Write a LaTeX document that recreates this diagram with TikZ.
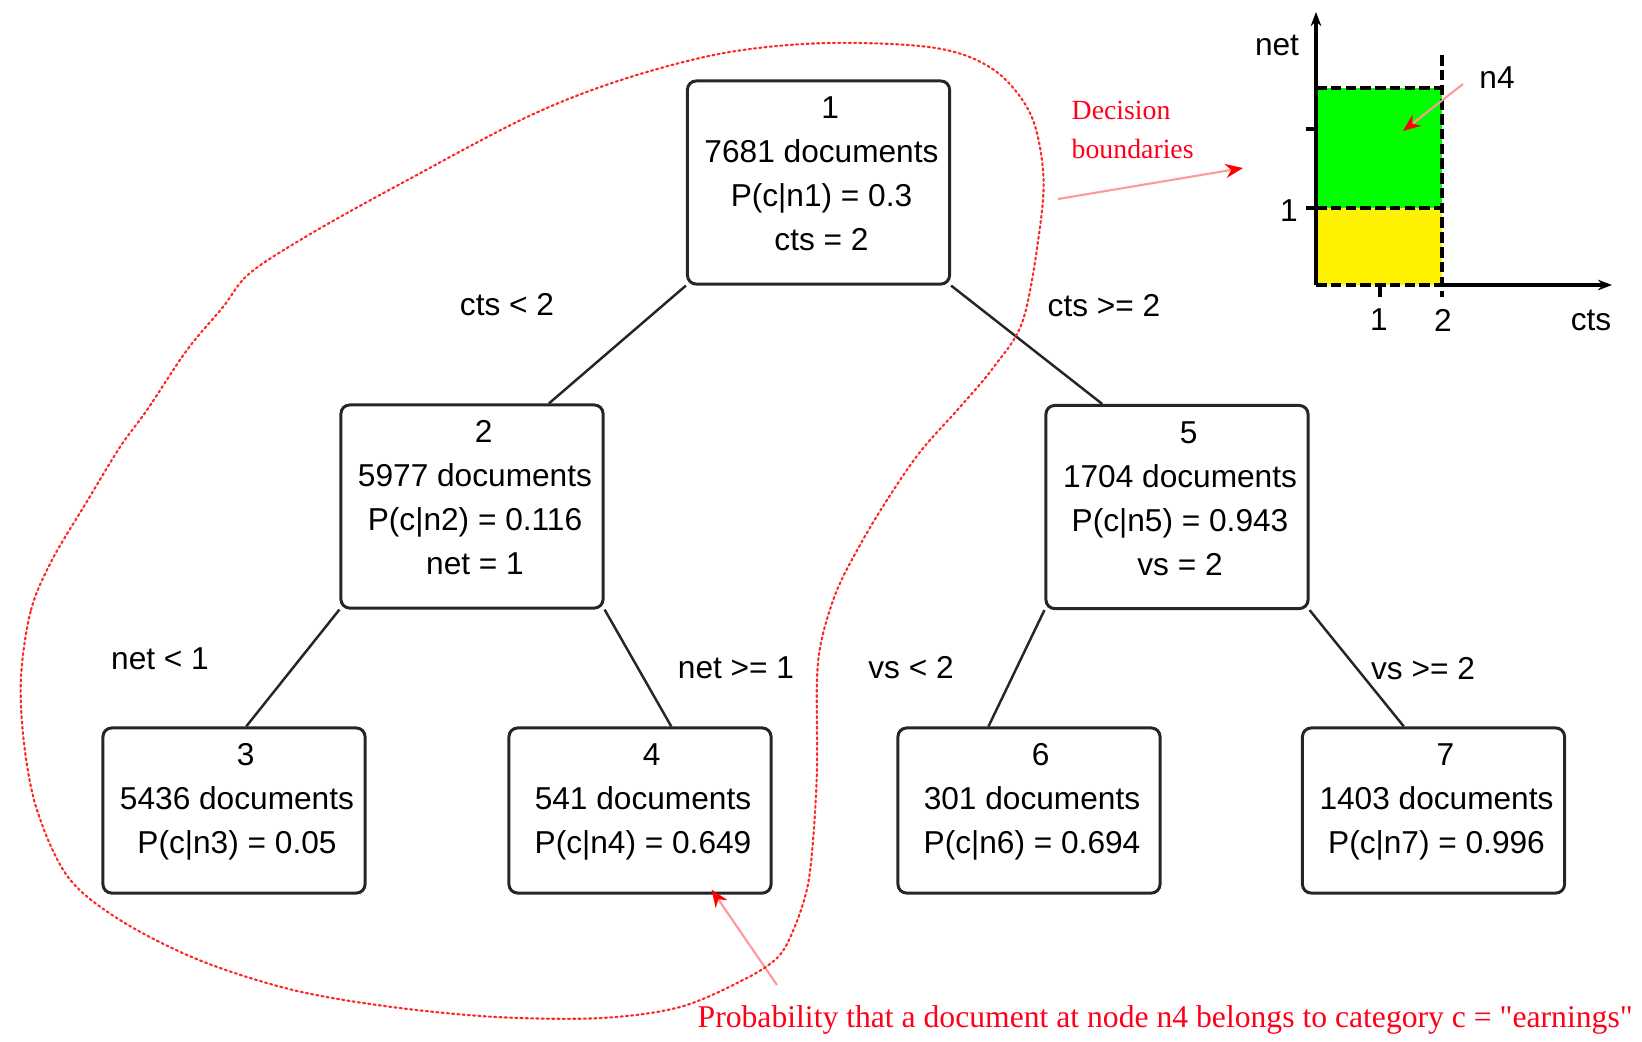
\documentclass[tikz,border=0pt]{standalone}
\usepackage{fontspec}
\setmainfont{Liberation Sans}
\newfontfamily\notefont{Liberation Serif}
\usetikzlibrary{arrows.meta,calc}

\newcommand{\nodeid}[1]{\hspace*{5pt}#1}

\tikzset{
  treebox/.style={draw=black!85, line width=0.85pt, rounded corners=2.5pt,
    fill=white, inner sep=0pt, minimum width=2.62cm},
  tallbox/.style={treebox, minimum height=2.03cm},
  leafbox/.style={treebox, minimum height=1.65cm},
  boxtext/.style={anchor=north, inner sep=0pt, font=\fontsize{9}{12.5}\selectfont},
  split/.style={inner sep=0pt, font=\fontsize{9}{11}\selectfont},
  branch/.style={draw=black!85, line width=0.7pt},
  axislabel/.style={inner sep=0pt, font=\fontsize{9}{11}\selectfont},
  boundary/.style={line width=1.1pt, dash pattern=on 3pt off 1.2pt},
  regionline/.style={draw=red!85, line width=0.6pt, dash pattern=on 0.6pt off 0.9pt, line cap=round},
  notearrow/.style={draw=red!40, line width=0.6pt, -{Stealth[length=5pt,width=4pt,color=red]}},
  note/.style={inner sep=0pt, text=red!90!magenta, font=\notefont\fontsize{7.9}{11}\selectfont, align=left},
}

\begin{document}
\begin{tikzpicture}[x=0.01cm, y=-0.01cm]
\useasboundingbox (0,0) rectangle (1642,1041);

% ---- tree nodes ----
\node[tallbox] (n1) at (818.5,182.5) {};
\node[tallbox] (n2) at (472,506.5) {};
\node[tallbox] (n5) at (1177,507) {};
\node[leafbox] (n3) at (234,810.5) {};
\node[leafbox] (n4) at (640,810.5) {};
\node[leafbox] (n6) at (1029,810.5) {};
\node[leafbox] (n7) at (1433.5,810.5) {};

\node[boxtext] (t1) at ($(n1.north)+(3,8)$) {\begin{tabular}{@{}c@{}}\nodeid{1}\\7681 documents\\P(c|n1) = 0.3\\cts = 2\end{tabular}};
\node[boxtext] (t2) at ($(n2.north)+(3,8)$) {\begin{tabular}{@{}c@{}}\nodeid{2}\\5977 documents\\P(c|n2) = 0.116\\net = 1\end{tabular}};
\node[boxtext] (t5) at ($(n5.north)+(3,8)$) {\begin{tabular}{@{}c@{}}\nodeid{5}\\1704 documents\\P(c|n5) = 0.943\\vs = 2\end{tabular}};
\node[boxtext] (t3) at ($(n3.north)+(3,8)$) {\begin{tabular}{@{}c@{}}\nodeid{3}\\5436 documents\\P(c|n3) = 0.05\end{tabular}};
\node[boxtext] (t4) at ($(n4.north)+(3,8)$) {\begin{tabular}{@{}c@{}}\nodeid{4}\\541 documents\\P(c|n4) = 0.649\end{tabular}};
\node[boxtext] (t6) at ($(n6.north)+(3,8)$) {\begin{tabular}{@{}c@{}}\nodeid{6}\\301 documents\\P(c|n6) = 0.694\end{tabular}};
\node[boxtext] (t7) at ($(n7.north)+(3,8)$) {\begin{tabular}{@{}c@{}}\nodeid{7}\\1403 documents\\P(c|n7) = 0.996\end{tabular}};

% ---- branches ----
\draw[branch] (n1.south west) -- ($(n2.north west)!0.79!(n2.north east)$);
\draw[branch] (n1.south east) -- ($(n5.north west)!0.218!(n5.north east)$);
\draw[branch] (n2.south west) -- ($(n3.north west)!0.546!(n3.north east)$);
\draw[branch] (n2.south east) -- ($(n4.north west)!0.618!(n4.north east)$);
\draw[branch] (n5.south west) -- ($(n6.north west)!0.347!(n6.north east)$);
\draw[branch] (n5.south east) -- ($(n7.north west)!0.388!(n7.north east)$);

% ---- split labels ----
\node[split] (s12) at (507,305) {cts < 2};
\node[split] (s15) at (1104,306) {cts >= 2};
\node[split] (s23) at (160,659) {net < 1};
\node[split] (s24) at (736,668) {net >= 1};
\node[split] (s56) at (911,668) {vs < 2};
\node[split] (s57) at (1423,669) {vs >= 2};

% ---- decision regions in the (cts, net) plane ----
\coordinate (o) at (1316,285);
\fill[green] (1316,88) rectangle (1442,208);
\fill[yellow] (1316,208) rectangle (1442,285);
\draw[line width=0.9pt, -{Stealth[length=4pt,width=3pt]}] (o) -- (1316,12);
\draw[line width=1.1pt, -{Stealth[length=4pt,width=3pt]}] (1442,285) -- (1612,285);
\draw[boundary] (1316,88) -- (1442,88);
\draw[boundary] (1316,208) -- (1442,208);
\draw[boundary] (1316,285) -- (1442,285);
\draw[boundary] (1442,55) -- (1442,297);
\draw[line width=0.9pt] (1306,129) -- (1316,129);
\draw[line width=0.9pt] (1306,208) -- (1316,208);
\draw[line width=0.9pt] (1380,285) -- (1380,297);
\node[axislabel] (ynet) at (1277,45) {net};
\node[axislabel] (xcts) at (1591,320) {cts};
\node[axislabel] (yone) at (1289,211) {1};
\node[axislabel] (xone) at (1379,320) {1};
\node[axislabel] (xtwo) at (1443,320) {2};
\node[axislabel] (lbn4) at (1497,78) {n4};
\coordinate (n4from) at (1463,84);
\coordinate (n4to) at (1403,131);
\draw[notearrow] (n4from) -- (n4to);

% ---- annotations ----
\node[note, anchor=west] (dec) at (1071,130) {Decision\\boundaries};
\coordinate (decfrom) at (1058,199);
\coordinate (decto) at (1243,168);
\draw[notearrow] (decfrom) -- (decto);

\node[inner sep=0pt, text=red!90!magenta, font=\notefont\fontsize{9}{11}\selectfont, anchor=west] (cap) at (697,1020)
  {Probability that a document at node n4 belongs to category c = "earnings"};
\coordinate (capfrom) at (777,985);
\draw[notearrow] (capfrom) -- ($(n4.south west)!0.77!(n4.south east)+(0,-5)$);

% ---- region covered by the cts < 2 branch ----
\draw[regionline] plot[smooth cycle, tension=0.55] coordinates {
  (21,677) (31,610) (52,560) (86,503) (120,447) (147,410) (187,350) (223,307)
  (250,273) (312,233) (402,183) (527,117) (621,80) (724,53) (827,43) (936,48)
  (994,70) (1030,113) (1043,170) (1040,227) (1023,320) (993,368) (960,407)
  (920,452) (887,500) (860,545) (837,590) (822,638) (817,680) (817,769)
  (813,841) (807,889) (793,931) (777,958) (743,980) (680,1007) (601,1018)
  (497,1017) (392,1007) (293,990) (199,960) (120,920) (68,877) (37,810) (24,743)};
\end{tikzpicture}
\end{document}
